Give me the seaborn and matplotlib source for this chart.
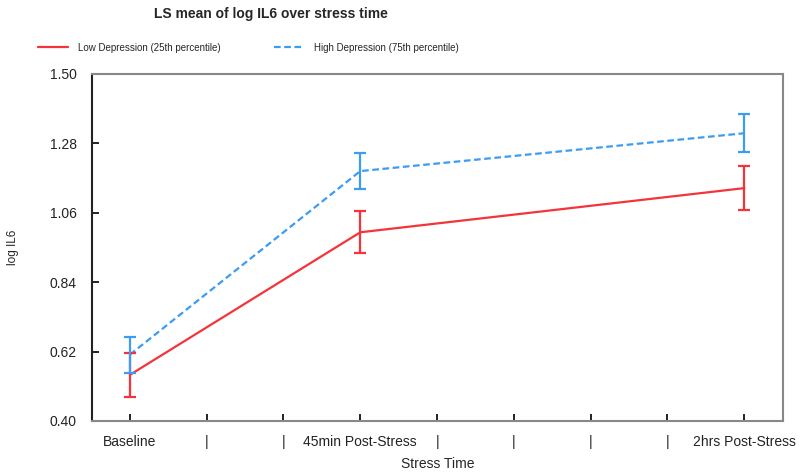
import numpy as np
import pandas as pd
import matplotlib
matplotlib.use("Agg")
import matplotlib.pyplot as plt
import seaborn as sns

sns.set_style("white")
plt.rcParams['font.family'] = ['Liberation Sans', 'DejaVu Sans']

# data (minutes after stress onset)
minutes = [0, 45, 120]
low_mean = [0.546, 0.998, 1.138]
low_err = [0.070, 0.067, 0.070]
high_mean = [0.610, 1.192, 1.312]
high_err = [0.057, 0.057, 0.060]
groups = ["Low Depression (25th percentile)", "High Depression (75th percentile)"]

tick_pos = [0, 15, 30, 45, 60, 75, 90, 105, 120]
tick_labels = ["Baseline", "|", "|", "45min Post-Stress", "|", "|", "|", "|", "2hrs Post-Stress"]
yticks = [0.40, 0.62, 0.84, 1.06, 1.28, 1.50]

red = "#f5333a"
blue = "#3c9cf2"

df = pd.DataFrame({
    "time": minutes * 2,
    "val": low_mean + high_mean,
    "err": low_err + high_err,
    "group": [groups[0]] * 3 + [groups[1]] * 3,
})

fig = plt.figure(figsize=(8, 4.74), dpi=100)
ax = fig.add_axes([0.115, 0.112, 0.864, 0.732])

sns.lineplot(data=df, x="time", y="val", hue="group", style="group",
             palette=[red, blue], dashes=[(None, None), (3, 1.6)],
             linewidth=1.6, ax=ax, legend=True)

for g, c in zip(groups, [red, blue]):
    sub = df[df["group"] == g]
    ax.errorbar(sub["time"], sub["val"], yerr=sub["err"], fmt="none",
                ecolor=c, elinewidth=1.6, capsize=4, capthick=1.6)

ax.set_xlim(-7.4, 127.6)
ax.set_ylim(0.40, 1.50)
ax.set_xticks(tick_pos)
ax.set_xticklabels(tick_labels, fontsize=10)
ax.set_yticks(yticks)
ax.set_yticklabels([f"{y:.2f}" for y in yticks], fontsize=10)
ax.tick_params(axis='both', direction='in', length=5, width=1.4, colors='#222222')
ax.tick_params(axis='x', pad=10, bottom=True)
ax.tick_params(axis='y', pad=11, left=True)

for side in ['top', 'right', 'bottom']:
    ax.spines[side].set_color('#888888')
    ax.spines[side].set_linewidth(1.5)
ax.spines['left'].set_color('#222222')
ax.spines['left'].set_linewidth(1.5)

ax.set_xlabel("Stress Time", fontsize=10, labelpad=6)
ax.set_ylabel("log IL6", fontsize=8.5, labelpad=22)

handles, labels = ax.get_legend_handles_labels()
ax.get_legend().remove()
fig.legend(handles, labels, loc='center', bbox_to_anchor=(0.31, 0.899), ncol=2,
           frameon=False, fontsize=7, handlelength=3.1, handletextpad=1.0,
           columnspacing=5.5)

fig.text(0.339, 0.97, "LS mean of log IL6 over stress time", fontsize=10,
         fontweight='bold', ha='center', va='center')

plt.savefig("out.png", dpi=100)
